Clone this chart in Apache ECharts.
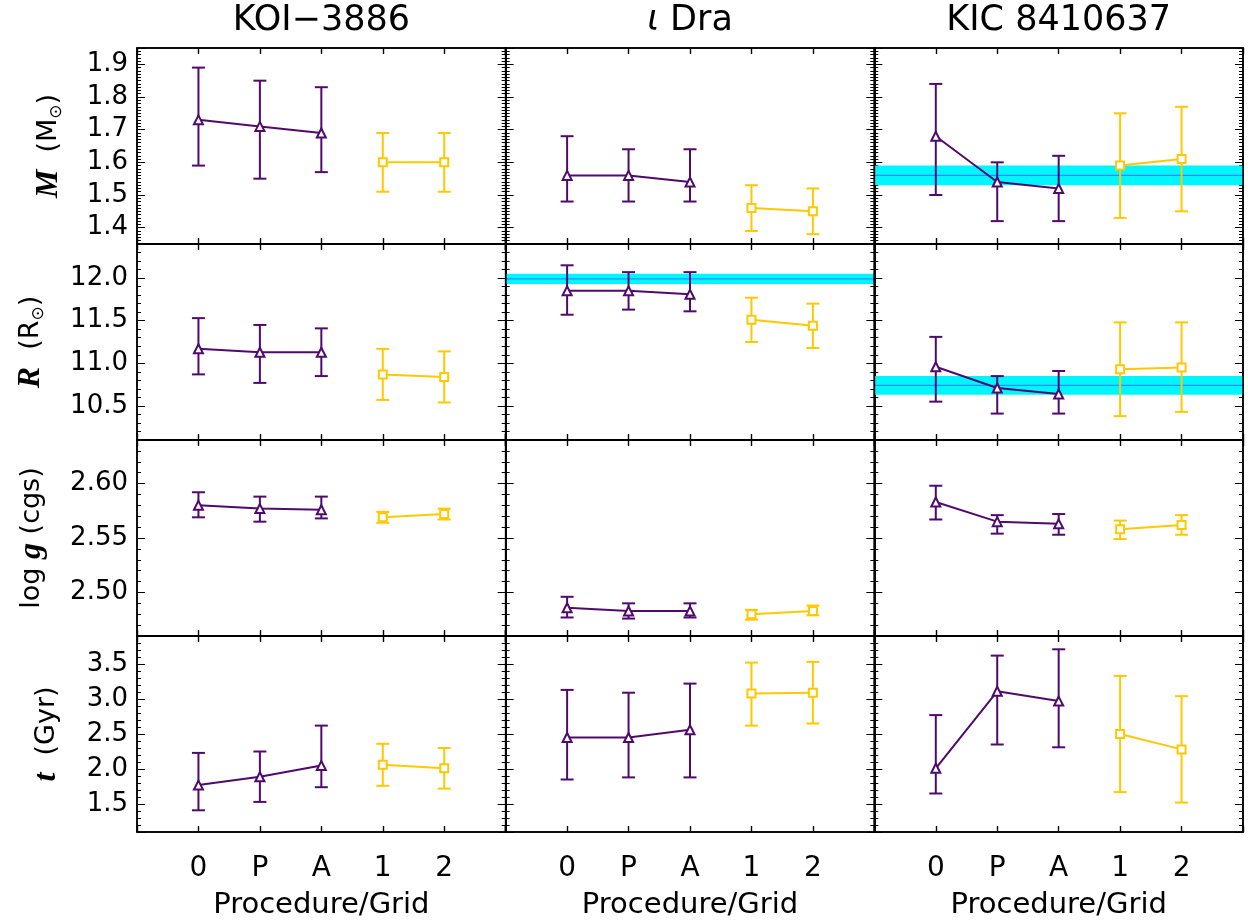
<!DOCTYPE html>
<html>
<head>
<meta charset="utf-8">
<script src="https://cdn.jsdelivr.net/npm/echarts@6/dist/echarts.min.js"></script>
<style>
  html, body { margin: 0; padding: 0; background: #fff; }
  #chart { width: 1248px; height: 922px; }
</style>
</head>
<body>
<div id="chart"></div>
<script>
// x positions 0..4 : procedures 0, P, A then grids 1, 2
const xLabels = ['0', 'P', 'A', '1', '2'];
const stars = ['KOI−3886', '{g|ι} Dra', 'KIC 8410637'];

// every point is [value, low, high]
const massProc = [
  [[1.73, 1.59, 1.89], [1.71, 1.55, 1.85], [1.69, 1.57, 1.83]],
  [[1.56, 1.48, 1.68], [1.56, 1.48, 1.64], [1.54, 1.48, 1.64]],
  [[1.68, 1.50, 1.84], [1.54, 1.42, 1.60], [1.52, 1.42, 1.62]]
];
const massGrid = [
  [[1.60, 1.51, 1.69], [1.60, 1.51, 1.69]],
  [[1.46, 1.39, 1.53], [1.45, 1.38, 1.52]],
  [[1.59, 1.43, 1.75], [1.61, 1.45, 1.77]]
];
const radiusProc = [
  [[11.17, 10.87, 11.53], [11.13, 10.77, 11.45], [11.13, 10.85, 11.41]],
  [[11.85, 11.57, 12.15], [11.85, 11.63, 12.07], [11.81, 11.61, 12.07]],
  [[10.96, 10.55, 11.31], [10.71, 10.41, 10.85], [10.64, 10.41, 10.91]]
];
const radiusGrid = [
  [[10.87, 10.57, 11.17], [10.84, 10.54, 11.14]],
  [[11.51, 11.25, 11.77], [11.44, 11.18, 11.70]],
  [[10.93, 10.38, 11.48], [10.95, 10.43, 11.48]]
];
const loggProc = [
  [[2.580, 2.569, 2.592], [2.577, 2.565, 2.588], [2.576, 2.568, 2.588]],
  [[2.486, 2.477, 2.496], [2.483, 2.476, 2.490], [2.483, 2.477, 2.490]],
  [[2.583, 2.567, 2.598], [2.565, 2.554, 2.571], [2.563, 2.553, 2.572]]
];
const loggGrid = [
  [[2.569, 2.564, 2.574], [2.572, 2.567, 2.577]],
  [[2.480, 2.475, 2.484], [2.483, 2.479, 2.488]],
  [[2.558, 2.549, 2.566], [2.562, 2.553, 2.571]]
];
const ageProc = [
  [[1.77, 1.41, 2.23], [1.89, 1.53, 2.25], [2.05, 1.74, 2.62]],
  [[2.45, 1.85, 3.13], [2.45, 1.88, 3.09], [2.56, 1.88, 3.22]],
  [[2.01, 1.65, 2.77], [3.11, 2.35, 3.62], [2.97, 2.31, 3.71]]
];
const ageGrid = [
  [[2.06, 1.76, 2.36], [2.01, 1.72, 2.30]],
  [[3.08, 2.62, 3.52], [3.09, 2.65, 3.53]],
  [[2.50, 1.67, 3.33], [2.28, 1.52, 3.04]]
];
// independent reference values (cyan bands), null where none
const massRef = [null, null, [1.56, 1.53, 1.59]];
const radiusRef = [null, [11.99, 11.93, 12.05], [10.74, 10.63, 10.85]];
const noRef = [null, null, null];

const purple = '#500a6e';
const yellow = '#ffc800';
const font = "'DejaVu Sans', sans-serif";

const nameRich = {
  it: { fontFamily: "'Liberation Serif', serif", fontStyle: 'italic', fontWeight: 'bold', fontSize: 32, color: '#000' },
  sub: { fontFamily: font, fontSize: 17, color: '#000', verticalAlign: 'bottom', lineHeight: 24 }
};

const rows = [
  { proc: massProc, grid: massGrid, ref: massRef, min: 1.35, max: 1.95, step: 0.1, minor: 10, digits: 1,
    name: '{it|M}  (M{sub|⊙})', gap: 72 },
  { proc: radiusProc, grid: radiusGrid, ref: radiusRef, min: 10.1, max: 12.4, step: 0.5, minor: 5, digits: 1,
    name: '{it|R}  (R{sub|⊙})', gap: 90 },
  { proc: loggProc, grid: loggGrid, ref: noRef, min: 2.46, max: 2.64, step: 0.05, minor: 5, digits: 2,
    name: 'log {it|g} (cgs)', gap: 89 },
  { proc: ageProc, grid: ageGrid, ref: noRef, min: 1.1, max: 3.9, step: 0.5, minor: 5, digits: 1,
    name: '{it|t}  (Gyr)', gap: 74 }
];

const left0 = 137, top0 = 48, panelW = 368.67, panelH = 196;

let grids = [], xAxes = [], yAxes = [], series = [], titles = [];

function errorBars(points, x0, color, xi, yi) {
  return {
    type: 'custom',
    xAxisIndex: xi, yAxisIndex: yi,
    data: points.map((d, i) => [x0 + i, d[1], d[2]]),
    encode: { x: 0, y: [1, 2] },
    z: 3,
    renderItem: (params, api) => {
      let hi = api.coord([api.value(0), api.value(2)]);
      let lo = api.coord([api.value(0), api.value(1)]);
      let w = 6.5;
      let style = { stroke: color, lineWidth: 2 };
      return {
        type: 'group',
        children: [
          { type: 'line', shape: { x1: hi[0], y1: hi[1], x2: lo[0], y2: lo[1] }, style },
          { type: 'line', shape: { x1: hi[0] - w, y1: hi[1], x2: hi[0] + w, y2: hi[1] }, style },
          { type: 'line', shape: { x1: lo[0] - w, y1: lo[1], x2: lo[0] + w, y2: lo[1] }, style }
        ]
      };
    }
  };
}

function band(ref, xi, yi) {
  return {
    type: 'custom',
    xAxisIndex: xi, yAxisIndex: yi,
    data: [ref],
    z: 1,
    renderItem: (params, api) => {
      let a = api.coord([-1, api.value(2)]);
      let b = api.coord([5, api.value(1)]);
      let m = api.coord([-1, api.value(0)]);
      return {
        type: 'group',
        children: [
          { type: 'rect', shape: { x: a[0], y: a[1], width: b[0] - a[0], height: b[1] - a[1] }, style: { fill: '#00f6ff' } },
          { type: 'line', shape: { x1: a[0], y1: m[1], x2: b[0], y2: m[1] }, style: { stroke: '#2b8cff', lineWidth: 1.2 } }
        ]
      };
    }
  };
}

stars.forEach((star, c) => {
  titles.push({
    text: star,
    left: left0 + (c + 0.5) * panelW,
    top: 3,
    textAlign: 'center',
    padding: 0,
    textStyle: {
      fontFamily: font, fontSize: 35, fontWeight: 'normal', color: '#000',
      rich: { g: { fontFamily: font, fontStyle: 'italic', fontSize: 35, color: '#000' } }
    }
  });
});

rows.forEach((row, r) => {
  stars.forEach((star, c) => {
    let p = r * 3 + c;
    let isBottom = r === rows.length - 1;
    grids.push({
      left: left0 + c * panelW, top: top0 + r * panelH, width: panelW, height: panelH,
      show: true, borderColor: '#000', borderWidth: 1.5, backgroundColor: 'transparent', z: 5
    });

    let xBase = {
      gridIndex: p, type: 'value', min: -1, max: 5, interval: 1,
      axisLine: { show: true, onZero: false, lineStyle: { color: '#000', width: 1.5 } },
      splitLine: { show: false },
      axisTick: { show: true, inside: true, length: 6, lineStyle: { color: '#000', width: 1.4 } }
    };
    // top axis first, the bottom one carries labels and series
    xAxes.push(Object.assign({}, xBase, { position: 'top', axisLabel: { show: false } }));
    xAxes.push(Object.assign({}, xBase, {
      position: 'bottom',
      axisLabel: {
        show: isBottom, margin: 23, color: '#000', fontFamily: font, fontSize: 28,
        formatter: (v) => xLabels[v] !== undefined ? xLabels[v] : ''
      },
      name: isBottom ? 'Procedure/Grid' : '',
      nameLocation: 'middle', nameGap: 59,
      nameTextStyle: { fontFamily: font, fontSize: 29, color: '#000' }
    }));

    let yBase = {
      gridIndex: p, type: 'value', min: row.min, max: row.max,
      minInterval: row.step, maxInterval: row.step,
      axisLine: { show: true, onZero: false, lineStyle: { color: '#000', width: 1.5 } },
      splitLine: { show: false },
      axisTick: { inside: true, length: 8, lineStyle: { color: '#000', width: 1 } },
      minorTick: { show: true, splitNumber: row.minor, length: 4, lineStyle: { color: '#000', width: 1 } }
    };
    yAxes.push(Object.assign({}, yBase, {
      position: 'left',
      axisLabel: {
        show: c === 0, margin: 9, color: '#000', fontFamily: font, fontSize: 26,
        showMinLabel: false, showMaxLabel: false,
        formatter: (v) => v.toFixed(row.digits)
      },
      name: c === 0 ? row.name : '',
      nameLocation: 'middle', nameGap: row.gap,
      nameTextStyle: { fontFamily: font, fontSize: 27, color: '#000', rich: nameRich }
    }));
    yAxes.push(Object.assign({}, yBase, { position: 'right', axisLabel: { show: false } }));

    let xi = 2 * p + 1, yi = 2 * p;
    if (row.ref[c]) series.push(band(row.ref[c], xi, yi));
    series.push(errorBars(row.proc[c], 0, purple, xi, yi));
    series.push(errorBars(row.grid[c], 3, yellow, xi, yi));
    series.push({
      type: 'line', xAxisIndex: xi, yAxisIndex: yi, z: 4,
      data: row.proc[c].map((d, i) => [i, d[0]]),
      symbol: 'emptyTriangle', symbolSize: 9,
      lineStyle: { color: purple, width: 2 },
      itemStyle: { color: purple, borderWidth: 2 }
    });
    series.push({
      type: 'line', xAxisIndex: xi, yAxisIndex: yi, z: 4,
      data: row.grid[c].map((d, i) => [3 + i, d[0]]),
      symbol: 'emptyRect', symbolSize: 8,
      lineStyle: { color: yellow, width: 2 },
      itemStyle: { color: yellow, borderWidth: 1.6 }
    });
  });
});

let chart = echarts.init(document.getElementById('chart'), null, { renderer: 'canvas' });
chart.setOption({
  animation: false,
  backgroundColor: '#fff',
  title: titles,
  grid: grids,
  xAxis: xAxes,
  yAxis: yAxes,
  series: series
});
</script>
</body>
</html>
